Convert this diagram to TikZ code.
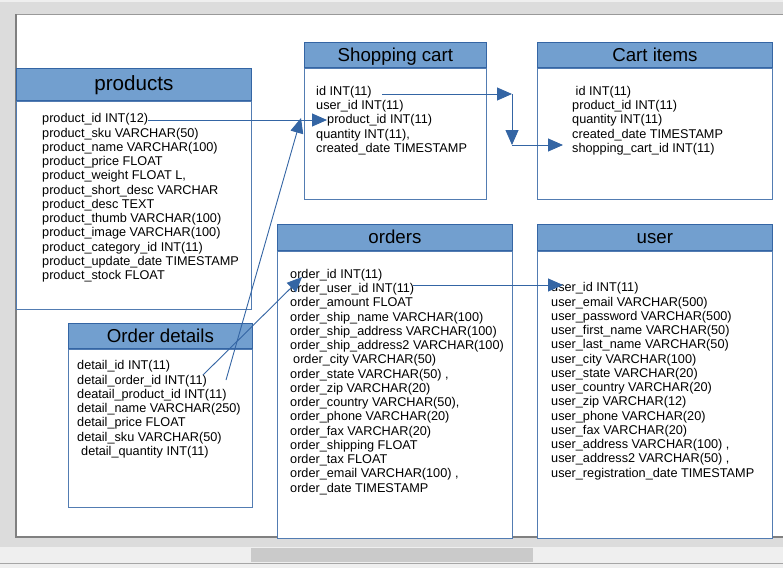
\documentclass[tikz,border=0pt]{standalone}
\usepackage{fontspec}
\setmainfont{Liberation Sans}
\usepackage{tikz}
\usetikzlibrary{arrows.meta,positioning}
\definecolor{HeadBlue}{HTML}{729FCF}
\definecolor{LineBlue}{HTML}{3465A4}
\definecolor{FrameGray}{HTML}{DCDCDC}
\definecolor{BarGray}{HTML}{EFEFEF}
\definecolor{ThumbGray}{HTML}{CACACA}

\begin{document}
\begin{tikzpicture}[
    x=1pt,y=-1pt,
    tablehead/.style={
        draw=LineBlue,
        fill=HeadBlue,
        anchor=north west,
        line width=0.8pt,
        inner sep=0pt,
        minimum height=25pt,
        text height=14.5pt,
        text depth=1.5pt,
        font=\fontsize{18.7}{20}\selectfont,
    },
    tablebody/.style={
        draw=LineBlue!85,
        fill=white,
        line width=0.8pt,
        inner sep=0pt,
    },
    fields/.style={
        anchor=north west,
        inner sep=0pt,
        align=left,
        font=\fontsize{12.7}{14.25}\selectfont,
    },
    fklink/.style={
        -{Triangle[length=15pt,width=13pt]},
        line width=0.9pt,
        color=LineBlue,
    },
]
\useasboundingbox (0,0) rectangle (783,568);

% window around the page
\fill[FrameGray] (0,0) rectangle (783,568);
\fill[BarGray] (0,0) rectangle (783,2);
\fill[white] (16,14) rectangle (783,537);
\draw[gray!80,line width=0.8pt] (16,14) -- (783,14);
\draw[gray,line width=1.5pt] (16,14) -- (16,537) -- (783,537);
\fill[BarGray] (0,547) rectangle (783,568);
\fill[ThumbGray] (251,548) rectangle (533,562);
\draw[gray!70,line width=1pt] (0,563.5) -- (783,563.5);

% products
\node[tablehead,minimum width=235pt,minimum height=32pt,font=\fontsize{20.6}{22}\selectfont] (prodhead) at (16,68) {products};
\node[tablebody,minimum width=235pt,minimum height=208pt,below=0pt of prodhead] (prodbody) {};
\node[fields] (prodfields) at (42,113.5) {%
    product\_id INT(12)\\
    product\_sku VARCHAR(50)\\
    product\_name VARCHAR(100)\\
    product\_price FLOAT\\
    product\_weight FLOAT L,\\
    product\_short\_desc VARCHAR\\
    product\_desc TEXT\\
    product\_thumb VARCHAR(100)\\
    product\_image VARCHAR(100)\\
    product\_category\_id INT(11)\\
    product\_update\_date TIMESTAMP\\
    product\_stock FLOAT};

% shopping cart
\node[tablehead,minimum width=182pt] (carthead) at (304,42) {Shopping cart};
\node[tablebody,minimum width=182pt,minimum height=131pt,below=0pt of carthead] (cartbody) {};
\node[fields] (cartfields) at (316,86) {%
    id INT(11)\\
    user\_id INT(11)\\
    \hspace*{11pt}product\_id INT(11)\\
    quantity INT(11),\\
    created\_date TIMESTAMP};

% cart items
\node[tablehead,minimum width=235pt] (itemhead) at (537,42) {Cart items};
\node[tablebody,minimum width=235pt,minimum height=131pt,below=0pt of itemhead] (itembody) {};
\node[fields] (itemfields) at (572,86) {%
    \hspace*{3.5pt}id INT(11)\\
    product\_id INT(11)\\
    quantity INT(11)\\
    created\_date TIMESTAMP\\
    shopping\_cart\_id INT(11)};

% orders
\node[tablehead,minimum width=235pt,minimum height=26pt] (ordhead) at (277,224) {orders};
\node[tablebody,minimum width=235pt,minimum height=287pt,below=0pt of ordhead] (ordbody) {};
\node[fields] (ordfields) at (290,269) {%
    order\_id INT(11)\\
    order\_user\_id INT(11)\\
    order\_amount FLOAT\\
    order\_ship\_name VARCHAR(100)\\
    order\_ship\_address VARCHAR(100)\\
    order\_ship\_address2 VARCHAR(100)\\
    \hspace*{3pt}order\_city VARCHAR(50)\\
    order\_state VARCHAR(50) ,\\
    order\_zip VARCHAR(20)\\
    order\_country VARCHAR(50),\\
    order\_phone VARCHAR(20)\\
    order\_fax VARCHAR(20)\\
    order\_shipping FLOAT\\
    order\_tax FLOAT\\
    order\_email VARCHAR(100) ,\\
    order\_date TIMESTAMP};

% user
\node[tablehead,minimum width=235pt,minimum height=26pt] (userhead) at (537,224) {user};
\node[tablebody,minimum width=235pt,minimum height=287pt,below=0pt of userhead] (userbody) {};
\node[fields] (userfields) at (551,282.5) {%
    user\_id INT(11)\\
    user\_email VARCHAR(500)\\
    user\_password VARCHAR(500)\\
    user\_first\_name VARCHAR(50)\\
    user\_last\_name VARCHAR(50)\\
    user\_city VARCHAR(100)\\
    user\_state VARCHAR(20)\\
    user\_country VARCHAR(20)\\
    user\_zip VARCHAR(12)\\
    user\_phone VARCHAR(20)\\
    user\_fax VARCHAR(20)\\
    user\_address VARCHAR(100) ,\\
    user\_address2 VARCHAR(50) ,\\
    user\_registration\_date TIMESTAMP};

% order details
\node[tablehead,minimum width=184pt] (dethead) at (68,323) {Order details};
\node[tablebody,minimum width=184pt,minimum height=158pt,below=0pt of dethead] (detbody) {};
\node[fields] (detfields) at (77,360.5) {%
    detail\_id INT(11)\\
    detail\_order\_id INT(11)\\
    deatail\_product\_id INT(11)\\
    detail\_name VARCHAR(250)\\
    detail\_price FLOAT\\
    detail\_sku VARCHAR(50)\\
    \hspace*{4pt}detail\_quantity INT(11)};

% link ends
\coordinate (prodid) at (148,120);
\coordinate (cartprod) at (327,120);
\coordinate (detprod) at (226,380);
\coordinate (cartcorner) at (301,118);
\coordinate (detorder) at (203,375);
\coordinate (ordid) at (302,277);
\coordinate (orduser) at (413,285);
\coordinate (userid) at (563,285);
\coordinate (cartid) at (382,94);
\coordinate (bendtop) at (512,94);
\coordinate (bendlow) at (512,145);
\coordinate (itemcart) at (563,145);

\draw[fklink] (prodid) -- (cartprod);
\draw[fklink] (detprod) -- (cartcorner);
\draw[fklink] (detorder) -- (ordid);
\draw[fklink] (orduser) -- (userid);
\draw[fklink] (cartid) -- (bendtop);
\draw[fklink] (bendtop) -- (bendlow);
\draw[fklink] (bendlow) -- (itemcart);
\end{tikzpicture}
\end{document}
